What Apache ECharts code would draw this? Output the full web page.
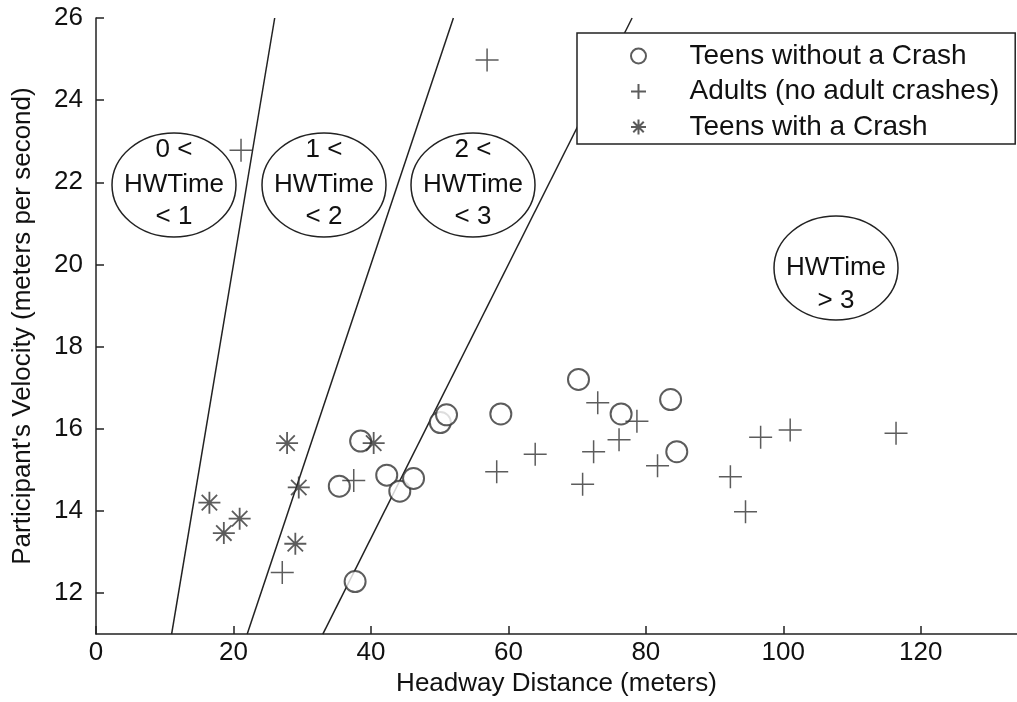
<!DOCTYPE html>
<html>
<head>
<meta charset="utf-8">
<script src="https://cdn.jsdelivr.net/npm/echarts@6/dist/echarts.min.js"></script>
<style>
  html, body { margin: 0; padding: 0; background: #fff; }
  #chart { width: 1017px; height: 702px; }
</style>
</head>
<body>
<div id="chart"></div>
<script>
// headway distance (m), velocity (m/s)
const teensNoCrash = [
  [35.4, 14.6], [38.5, 15.7], [37.7, 12.28], [42.3, 14.87], [44.2, 14.48],
  [46.2, 14.79], [50.1, 16.15], [51.0, 16.34], [58.9, 16.36], [70.2, 17.2],
  [76.4, 16.36], [83.6, 16.71], [84.5, 15.44]
]
const adults = [
  [21.1, 22.78], [56.9, 24.98], [27.1, 12.5], [37.5, 14.74], [58.3, 14.95],
  [63.9, 15.38], [70.8, 14.65], [72.4, 15.44], [73.0, 16.63], [76.1, 15.73],
  [78.7, 16.18], [81.7, 15.1], [92.3, 14.83], [94.5, 13.98], [96.7, 15.79],
  [101.0, 15.97], [116.4, 15.89]
]
const teensCrash = [
  [16.5, 14.2], [20.9, 13.81], [18.6, 13.46], [27.8, 15.65], [29.5, 14.57],
  [29.0, 13.2], [40.4, 15.65]
]
// headway time boundaries (1 s, 2 s, 3 s)
const hwLine1 = [[11, 11], [26, 26]]
const hwLine2 = [[22, 11], [52, 26]]
const hwLine3 = [[33, 11], [78, 26]]

const xTicks = [0, 20, 40, 60, 80, 100, 120]
const yTicks = [12, 14, 16, 18, 20, 22, 24, 26]
const legendNames = ['Teens without a Crash', 'Adults (no adult crashes)', 'Teens with a Crash']

const ink = '#222'
const font = "'Liberation Sans', Arial, sans-serif"
const plusPath = 'path://M0,-1L0,1M-1,0L1,0'
const starPath = 'path://M0,-1L0,1M-1,0L1,0M-0.7,-0.7L0.7,0.7M-0.7,0.7L0.7,-0.7'

function bubble (cx, cy, lines, offsets) {
  const children = [{
    type: 'ellipse',
    shape: { cx: cx, cy: cy, rx: 62, ry: 52 },
    style: { fill: 'none', stroke: ink, lineWidth: 1.5 }
  }]
  lines.forEach((t, i) => {
    children.push({
      type: 'text',
      x: cx,
      y: cy + offsets[i],
      style: {
        text: t, fill: '#111', font: '26px ' + font,
        textAlign: 'center', textVerticalAlign: 'middle'
      }
    })
  })
  return { type: 'group', children: children }
}

const chart = echarts.init(document.getElementById('chart'))
chart.setOption({
  backgroundColor: '#fff',
  animation: false,
  textStyle: { fontFamily: font },
  grid: { left: 96, right: 0, top: 18, bottom: 66 },
  xAxis: {
    type: 'value',
    min: 0,
    max: 134,
    name: 'Headway Distance (meters)',
    nameLocation: 'middle',
    nameGap: 34,
    nameTextStyle: { fontSize: 26, color: '#111' },
    axisLine: { lineStyle: { color: ink, width: 1.5 } },
    axisTick: { inside: true, length: 8, customValues: xTicks, lineStyle: { color: ink, width: 1.5 } },
    axisLabel: { customValues: xTicks, fontSize: 26, color: '#111', margin: 6 },
    splitLine: { show: false }
  },
  yAxis: {
    type: 'value',
    min: 11,
    max: 26,
    name: "Participant's Velocity (meters per second)",
    nameLocation: 'middle',
    nameGap: 60,
    nameTextStyle: { fontSize: 26, color: '#111' },
    axisLine: { show: true, lineStyle: { color: ink, width: 1.5 } },
    axisTick: { show: true, inside: true, length: 8, customValues: yTicks, lineStyle: { color: ink, width: 1.5 } },
    axisLabel: { customValues: yTicks, fontSize: 26, color: '#111', margin: 13 },
    splitLine: { show: false }
  },
  legend: {
    data: legendNames,
    orient: 'vertical',
    left: 577,
    top: 33,
    itemWidth: 92,
    itemHeight: 15,
    itemGap: 7.5,
    padding: [9, 16, 3, 53],
    borderColor: ink,
    borderWidth: 1.5,
    backgroundColor: '#fff',
    selectedMode: false,
    textStyle: { fontSize: 28, lineHeight: 26, color: '#111' }
  },
  series: [
    {
      name: legendNames[0],
      type: 'scatter',
      data: teensNoCrash,
      symbol: 'emptyCircle',
      symbolSize: 21,
      itemStyle: { color: '#333', borderColor: '#333', borderWidth: 1.5 },
      z: 3
    },
    {
      name: legendNames[1],
      type: 'scatter',
      data: adults,
      symbol: plusPath,
      symbolSize: 23,
      itemStyle: { color: 'transparent', borderColor: '#333', borderWidth: 1.5 },
      z: 3
    },
    {
      name: legendNames[2],
      type: 'scatter',
      data: teensCrash,
      symbol: starPath,
      symbolSize: 22,
      itemStyle: { color: 'transparent', borderColor: '#333', borderWidth: 1.8 },
      z: 3
    },
    { type: 'line', data: hwLine1, symbol: 'none', lineStyle: { color: ink, width: 1.5 }, silent: true },
    { type: 'line', data: hwLine2, symbol: 'none', lineStyle: { color: ink, width: 1.5 }, silent: true },
    { type: 'line', data: hwLine3, symbol: 'none', lineStyle: { color: ink, width: 1.5 }, silent: true }
  ],
  graphic: [
    bubble(174, 185, ['0 <', 'HWTime', '< 1'], [-35, 0, 32]),
    bubble(324, 185, ['1 <', 'HWTime', '< 2'], [-35, 0, 32]),
    bubble(473, 185, ['2 <', 'HWTime', '< 3'], [-35, 0, 32]),
    bubble(836, 268, ['HWTime', '> 3'], [0, 33])
  ]
})
</script>
</body>
</html>
